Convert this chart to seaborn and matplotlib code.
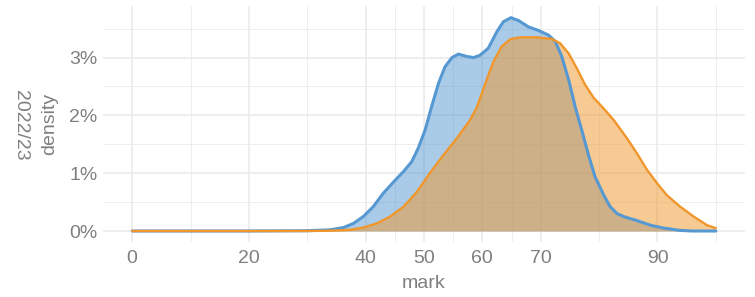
import numpy as np
import pandas as pd
import matplotlib
matplotlib.use("Agg")
import matplotlib.pyplot as plt
import seaborn as sns
from matplotlib.ticker import PercentFormatter

# density curves (mark, density in %)
marks_a = [0, 20, 30, 33.9, 36.2, 37.9, 39.6, 41.3, 43.0, 44.8, 46.5, 47.9, 49.0,
           50.2, 51.3, 52.5, 53.6, 54.8, 55.9, 57.3, 58.5, 59.6, 61.0, 62.5,
           63.6, 64.9, 66.2, 67.9, 69.6, 71.3, 72.5, 73.6, 74.8, 75.9, 77.1,
           78.2, 79.3, 80.8, 81.9, 83.1, 84.2, 86.5, 88.8, 91.1, 93.9, 96, 100]
dens_a = [0, 0, 0.005, 0.02, 0.06, 0.13, 0.25, 0.42, 0.65, 0.85, 1.03, 1.20, 1.43,
          1.75, 2.15, 2.56, 2.84, 3.00, 3.06, 3.02, 3.00, 3.04, 3.16, 3.45,
          3.62, 3.69, 3.64, 3.53, 3.47, 3.39, 3.28, 3.02, 2.61, 2.15, 1.72,
          1.31, 0.94, 0.62, 0.42, 0.30, 0.25, 0.18, 0.10, 0.05, 0.01, 0, 0]

marks_b = [0, 20, 30, 33.9, 37.3, 39.6, 41.9, 44.2, 46.5, 48.8, 51.0, 53.3, 55.6,
           57.9, 59.1, 60.5, 61.9, 63.3, 64.8, 66.5, 69.3, 71.9, 73.3, 74.8,
           76.2, 77.6, 79.1, 80.5, 82.5, 84.8, 86.5, 88.2, 89.9, 91.6, 93.9,
           96.2, 98.5, 100]
dens_b = [0, 0, 0, 0.005, 0.02, 0.06, 0.13, 0.25, 0.42, 0.68, 1.00, 1.31, 1.60,
          1.92, 2.15, 2.55, 2.93, 3.19, 3.32, 3.35, 3.35, 3.32, 3.25, 3.07,
          2.81, 2.53, 2.30, 2.15, 1.92, 1.60, 1.34, 1.06, 0.83, 0.62, 0.42,
          0.25, 0.10, 0.05]

groups = ["group 1", "group 2"]
colors = {"group 1": "#5698D2", "group 2": "#F1962A"}

x_major = [0, 20, 40, 50, 60, 70, 90]
x_minor = [10, 30, 45, 55, 65, 80, 100]
y_major = [0, 0.01, 0.02, 0.03]
y_minor = [0.005, 0.015, 0.025, 0.035]

df = pd.concat([
    pd.DataFrame({"mark": marks_a, "density": np.array(dens_a) / 100, "group": groups[0]}),
    pd.DataFrame({"mark": marks_b, "density": np.array(dens_b) / 100, "group": groups[1]}),
], ignore_index=True)

sns.set_theme(style="white")
plt.rcParams["font.family"] = ["Liberation Sans", "DejaVu Sans"]
text_col = "#7F7F7F"
grid_col = "#EBEBEB"

fig = plt.figure(figsize=(7.55, 2.97), dpi=100)
ax = fig.add_axes([103 / 755, 55.3 / 297, 642 / 755, 235.3 / 297])

# fills first, then outlines on top
for g in groups:
    sub = df[df["group"] == g]
    ax.fill_between(sub["mark"], sub["density"], color=colors[g], alpha=0.5, lw=0)

sns.lineplot(data=df[df["group"] == groups[0]], x="mark", y="density",
             color=colors[groups[0]], lw=2.2, ax=ax, legend=False)
sns.lineplot(data=df[df["group"] == groups[1]], x="mark", y="density",
             color=colors[groups[1]], lw=1.7, ax=ax, legend=False)

ax.set_xlim(-5, 105)
ax.set_ylim(-0.00185, 0.03885)
ax.set_xticks(x_major)
ax.set_xticks(x_minor, minor=True)
ax.set_yticks(y_major)
ax.set_yticks(y_minor, minor=True)
ax.yaxis.set_major_formatter(PercentFormatter(xmax=1, decimals=0))

ax.grid(which="major", color=grid_col, lw=1.2)
ax.grid(which="minor", color=grid_col, lw=0.6)
ax.set_axisbelow(True)
for s in ax.spines.values():
    s.set_visible(False)

ax.tick_params(axis="both", which="both", length=0, labelsize=14, colors=text_col)
ax.tick_params(axis="x", pad=6)
ax.tick_params(axis="y", pad=4)

ax.set_xlabel("mark", fontsize=14, color=text_col)
ax.xaxis.set_label_coords(0.5, (241.7 - 284) / 235.3)
ax.xaxis.label.set_va("center")
ax.set_ylabel("density", fontsize=14, color=text_col)
ax.yaxis.set_label_coords((50 - 103) / 642, 0.5)
ax.yaxis.label.set_va("center")

fig.text(20 / 755, (297 - 125) / 297, "2022/23", rotation=270,
         ha="center", va="center", fontsize=14, color=text_col)

fig.savefig("out.png", dpi=100)
